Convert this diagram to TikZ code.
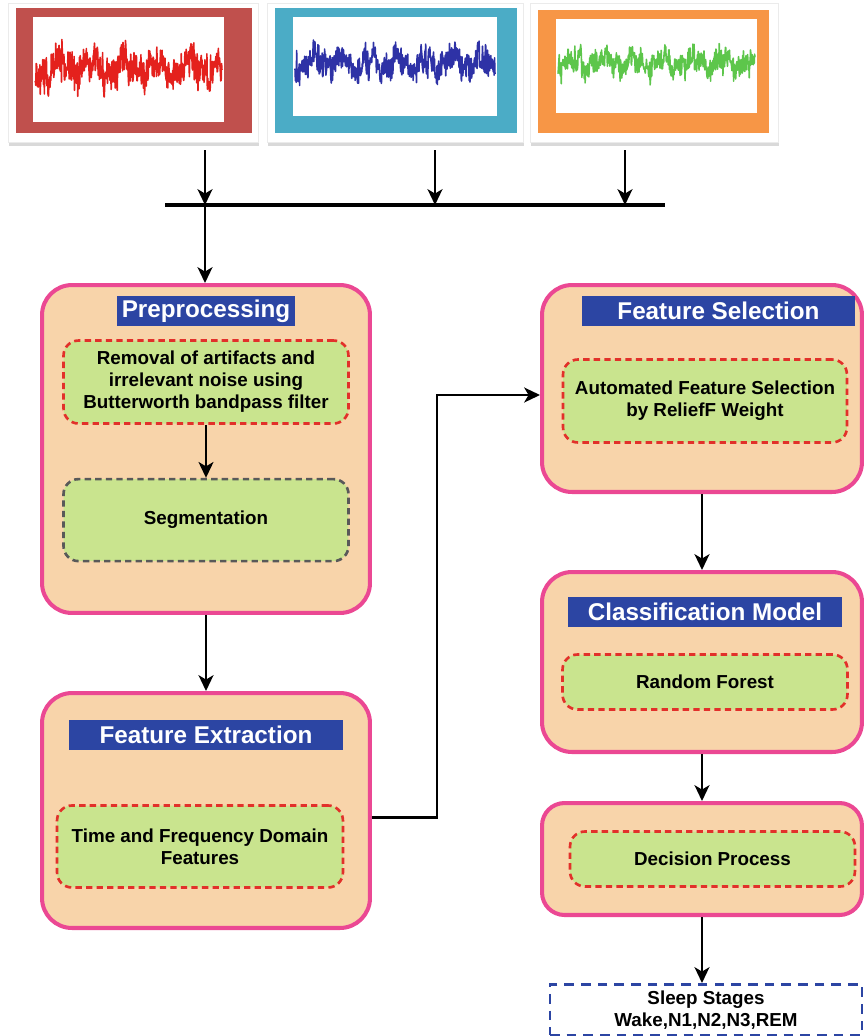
\documentclass[tikz,border=0pt]{standalone}
\usepackage{fontspec}
\setmainfont{Liberation Sans}
\usetikzlibrary{arrows.meta, positioning, shadows}

\definecolor{framered}{HTML}{C0504D}
\definecolor{frameblue}{HTML}{4BACC6}
\definecolor{frameorange}{HTML}{F79646}
\definecolor{wavered}{HTML}{E4211D}
\definecolor{waveblue}{HTML}{2E32A6}
\definecolor{wavegreen}{HTML}{5DC64B}
\definecolor{stagefill}{HTML}{F8D4AA}
\definecolor{stageline}{HTML}{EB4893}
\definecolor{titleblue}{HTML}{2C45A3}
\definecolor{taskfill}{HTML}{C9E48E}
\definecolor{taskline}{HTML}{E2302A}

\begin{document}
\begin{tikzpicture}[
  x=0.02cm, y=-0.02cm,
  sigcard/.style={rectangle, fill=white, draw=black!8, line width=0.4pt, inner sep=0pt,
                  drop shadow={shadow xshift=0.6pt, shadow yshift=-2pt, opacity=0.3, fill=black!50}},
  sigframe/.style={rectangle, inner sep=0pt},
  sigscreen/.style={rectangle, fill=white, inner sep=0pt},
  stage/.style={rectangle, rounded corners=0.6cm, draw=stageline, line width=2.3pt,
                fill=stagefill, inner sep=0pt, minimum width=6.4cm},
  stagetitle/.style={rectangle, fill=titleblue, text=white, inner sep=0pt,
                     minimum height=0.59cm, font=\bfseries\fontsize{13.8}{16}\selectfont},
  task/.style={rectangle, rounded corners=0.3cm, draw=taskline, fill=taskfill,
               line width=1.5pt, dash pattern=on 3.6pt off 2.4pt, inner sep=2pt,
               align=center, minimum width=5.7cm,
               font=\bfseries\fontsize{10.7}{12.5}\selectfont},
  wave/.style={line width=0.9pt, line join=round},
  arrow/.style={-{Stealth[length=9pt, width=8.5pt, inset=2.5pt]}, line width=1.4pt},
  bus/.style={line width=1.8pt}
]
\useasboundingbox (0,0) rectangle (865,1036);
\pgfmathsetseed{17}

% Input signals
\node[sigcard, minimum width=5.0cm, minimum height=2.78cm] (card1) at (133,72.5) {};
\node[sigframe, fill=framered, minimum width=4.72cm, minimum height=2.5cm] (frame1) at (134,70.5) {};
\node[sigscreen, minimum width=3.82cm, minimum height=2.1cm] (screen1) at (128.5,69.5) {};
\node[sigcard, minimum width=5.12cm, minimum height=2.78cm] (card2) at (395,72.5) {};
\node[sigframe, fill=frameblue, minimum width=4.84cm, minimum height=2.5cm] (frame2) at (396,70.5) {};
\node[sigscreen, minimum width=4.08cm, minimum height=1.98cm] (screen2) at (395,66.5) {};
\node[sigcard, minimum width=4.96cm, minimum height=2.78cm] (card3) at (654,72.5) {};
\node[sigframe, fill=frameorange, minimum width=4.62cm, minimum height=2.46cm] (frame3) at (653.5,71.5) {};
\node[sigscreen, minimum width=4.02cm, minimum height=1.88cm] (screen3) at (656.5,66) {};

\draw[wave, wavered]   plot[domain=35:222, samples=460]
  (\x, {67+7*sin((\x-35)*11)+5*sin((\x-35)*27+60)+15*rand+20*rand*rand*rand});
\draw[wave, waveblue]  plot[domain=295:495, samples=480]
  (\x, {63+6*sin((\x-295)*13+20)+4*sin((\x-295)*31)+13*rand+18*rand*rand*rand});
\draw[wave, wavegreen] plot[domain=558:755, samples=480]
  (\x, {63+5*sin((\x-558)*12+80)+4*sin((\x-558)*29)+11*rand+14*rand*rand*rand});

% Merge bus
\coordinate (s1) at (205,150);
\coordinate (s2) at (435,150);
\coordinate (s3) at (625,150);
\coordinate (j1) at (205,205);
\coordinate (j2) at (435,205);
\coordinate (j3) at (625,205);
\coordinate (busL) at (165,205);
\coordinate (busR) at (665,205);
\draw[bus] (busL) -- (busR);
\draw[arrow] (s1) -- (j1);
\draw[arrow] (s2) -- (j2);
\draw[arrow] (s3) -- (j3);

% Left column
\node[stage, minimum width=6.56cm, minimum height=6.56cm] (pre) at (206,449) {};
\node[stagetitle, minimum width=3.58cm, below=0.26cm of pre.north] (pretitle) {Preprocessing};
\node[task, minimum height=1.66cm, below=0.26cm of pretitle] (removal)
  {Removal of artifacts and\\irrelevant noise using\\Butterworth bandpass filter};
\node[task, draw=black!65, minimum height=1.64cm, below=1.06cm of removal] (seg) {Segmentation};

\node[stage, minimum width=6.56cm, minimum height=4.7cm] (fe) at (206,810.5) {};
\node[stagetitle, minimum width=5.48cm, below=0.58cm of fe.north] (fetitle) {Feature Extraction};
\node[task, minimum width=5.72cm, minimum height=1.64cm, below=1.08cm of fetitle, xshift=-0.12cm] (fefeat)
  {Time and Frequency Domain\\Features};

% Right column
\node[stage, minimum height=4.14cm] (fs) at (702,388.5) {};
\node[stagetitle, minimum width=5.46cm, below=0.26cm of fs.north, xshift=0.33cm] (fstitle) {Feature Selection};
\node[task, minimum width=5.68cm, minimum height=1.66cm, below=0.64cm of fstitle, xshift=-0.27cm] (relief)
  {Automated Feature Selection\\by ReliefF Weight};

\node[stage, minimum height=3.6cm] (cm) at (702,662) {};
\node[stagetitle, minimum width=5.48cm, below=0.54cm of cm.north, xshift=0.06cm] (cmtitle) {Classification Model};
\node[task, minimum height=1.1cm, below=0.52cm of cmtitle] (rf) {Random Forest};

\node[stage, rounded corners=0.45cm, minimum height=2.24cm] (dp) at (702,859) {};
\node[task, minimum height=1.1cm, xshift=0.21cm] (dec) at (dp) {Decision Process};

\node[task, draw=titleblue, fill=white, rounded corners=0pt, line width=1.6pt,
      dash pattern=on 5.5pt off 4pt, minimum width=6.24cm, minimum height=1.02cm,
      below=1.32cm of dp, xshift=0.08cm] (sleep) {Sleep Stages\\Wake,N1,N2,N3,REM};

% Flow
\draw[arrow] (j1) -- (j1 |- pre.north);
\draw[arrow] (removal) -- (seg);
\draw[arrow] (pre) -- (fe);
\draw[arrow] ([yshift=-0.14cm]fe.east) -- ++(65,0) |- ([yshift=-0.13cm]fs.west);
\draw[arrow] (fs) -- (cm);
\draw[arrow] (cm) -- (dp);
\draw[arrow] (dp) -- (dp |- sleep.north);

\end{tikzpicture}
\end{document}
